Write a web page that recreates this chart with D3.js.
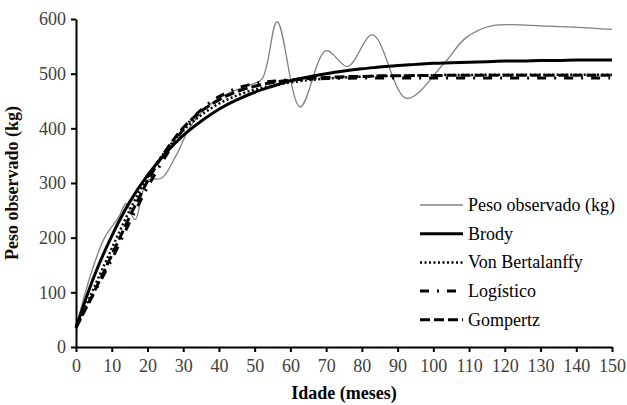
<!DOCTYPE html>
<html>
<head>
<meta charset="utf-8">
<script src="https://cdn.jsdelivr.net/npm/d3@7"></script>
<style>
  html, body { margin: 0; padding: 0; background: #fff; }
  svg { display: block; font-family: "Liberation Serif", "DejaVu Serif", serif; }
</style>
</head>
<body>
<svg id="chart" width="627" height="405"></svg>
<script>
const obsMonths = [0, 4, 8, 12, 14, 16.5, 20, 24, 28, 32, 36, 42, 48, 52, 56.3, 62.7, 70, 76, 83, 92.5, 103, 109, 116, 132, 150];
const obsWeight = [35, 130, 200, 238, 262, 233, 305, 309, 350, 403, 435, 462, 478, 490, 595, 439, 542, 513, 571, 455, 519, 565, 587, 587, 581];

// Fitted models, every 5 months
const modelMonths = [0, 5, 10, 15, 20, 25, 30, 35, 40, 45, 50, 55, 60, 65, 70, 75, 80, 85, 90, 95, 100, 105, 110, 115, 120, 125, 130, 135, 140, 145, 150];
const brody =       [35, 128, 203, 265, 314, 354, 387, 413, 435, 452, 466, 477, 487, 494, 500, 505, 509, 512, 515, 517, 519, 520, 521, 522, 523, 523, 524, 524, 525, 525, 525];
const bertalanffy = [35, 108, 180, 250, 310, 358, 396, 424, 445, 460, 471, 478, 484, 488, 491, 493, 494.5, 495.5, 496, 496.5, 497, 497.5, 497.5, 498, 498, 498, 498, 498, 498, 498, 498];
const logistico =   [38, 98, 160, 228, 292, 348, 398, 434, 458, 473, 482, 486, 489, 490, 491, 491.5, 492, 492, 492, 492, 492, 492, 492, 492, 492, 492, 492, 492, 492, 492, 492];
const gompertz =    [35, 100, 168, 238, 303, 358, 401, 431, 452, 467, 477, 484, 488, 491, 493, 494.5, 495, 496, 496, 496.5, 496.5, 497, 497, 497, 497, 497, 497, 497, 497, 497, 497];

const xTicks = d3.range(0, 151, 10);
const yTicks = [0, 100, 200, 300, 400, 500, 600];

const series = [
  { name: 'Peso observado (kg)', x: obsMonths, y: obsWeight, color: '#808080', width: 1.3, dash: null },
  { name: 'Brody', x: modelMonths, y: brody, color: '#000', width: 3, dash: null },
  { name: 'Von Bertalanffy', x: modelMonths, y: bertalanffy, color: '#000', width: 2.5, dash: '2,2.5' },
  { name: 'Logístico', x: modelMonths, y: logistico, color: '#000', width: 3, dash: '9,8,2,8' },
  { name: 'Gompertz', x: modelMonths, y: gompertz, color: '#000', width: 3, dash: '10,4' },
];

const FONT = '"Liberation Serif", "DejaVu Serif", serif';
const margin = { top: 19, right: 15, bottom: 58, left: 76 };
const width = 627 - margin.left - margin.right;
const height = 405 - margin.top - margin.bottom;

const root = d3.select('#chart');
const svg = root.append('g').attr('transform', `translate(${margin.left},${margin.top})`);

const x = d3.scaleLinear().domain([0, 150]).range([0, width]);
const y = d3.scaleLinear().domain([0, 600]).range([height, 0]);

// Axes
const xAxis = svg.append('g')
  .attr('transform', `translate(0,${height})`)
  .call(d3.axisBottom(x).tickValues(xTicks).tickSize(5).tickSizeOuter(0));
const yAxis = svg.append('g')
  .call(d3.axisLeft(y).tickValues(yTicks).tickSize(5).tickSizeOuter(0));

[xAxis, yAxis].forEach((ax) => {
  ax.attr('font-family', FONT);
  ax.select('.domain').attr('stroke', '#000').attr('stroke-width', 2);
  ax.selectAll('.tick line').attr('stroke', '#000').attr('stroke-width', 2);
  ax.selectAll('.tick text')
    .attr('font-size', '18px')
    .attr('fill', '#404040');
});
xAxis.selectAll('.tick text').attr('dy', '0.95em');
yAxis.selectAll('.tick text').attr('x', -10);

// Axis titles
svg.append('text')
  .attr('x', width / 2)
  .attr('y', height + 52)
  .attr('text-anchor', 'middle')
  .attr('font-family', FONT)
  .attr('font-size', '18px')
  .attr('font-weight', 'bold')
  .attr('fill', '#000')
  .text('Idade (meses)');

svg.append('text')
  .attr('transform', `translate(${-58},${height / 2}) rotate(-90)`)
  .attr('text-anchor', 'middle')
  .attr('font-family', FONT)
  .attr('font-size', '18px')
  .attr('font-weight', 'bold')
  .attr('fill', '#1a0c05')
  .text('Peso observado (kg)');

// Lines
const line = d3.line()
  .x((d) => x(d[0]))
  .y((d) => y(d[1]))
  .curve(d3.curveCatmullRom.alpha(0.5));

series.forEach((s) => {
  const pts = s.x.map((m, i) => [m, s.y[i]]);
  svg.append('path')
    .datum(pts)
    .attr('fill', 'none')
    .attr('stroke', s.color)
    .attr('stroke-width', s.width)
    .attr('stroke-dasharray', s.dash)
    .attr('d', line);
});

// Legend
const legend = root.append('g').attr('transform', 'translate(420,205)');
series.forEach((s, i) => {
  const row = legend.append('g').attr('transform', `translate(0,${i * 28.7})`);
  row.append('line')
    .attr('x1', 0).attr('x2', 43)
    .attr('y1', 0).attr('y2', 0)
    .attr('stroke', s.color)
    .attr('stroke-width', s.width)
    .attr('stroke-dasharray', s.dash);
  row.append('text')
    .attr('x', 48)
    .attr('y', 6)
    .attr('font-family', FONT)
    .attr('font-size', '18px')
    .attr('fill', '#000')
    .text(s.name);
});
</script>
</body>
</html>
